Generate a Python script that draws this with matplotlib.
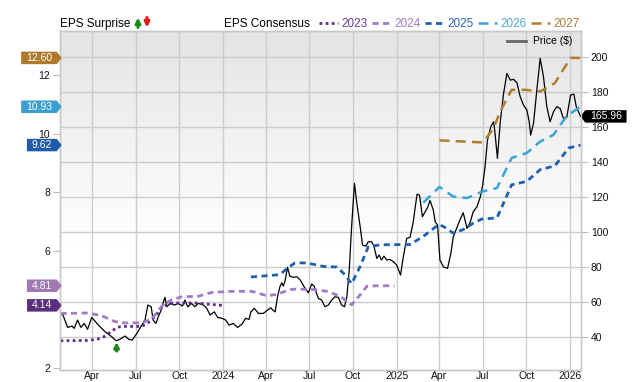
import numpy as np
import pandas as pd
import matplotlib
matplotlib.use("Agg")
import matplotlib.pyplot as plt
import matplotlib.dates as mdates
from matplotlib.path import Path
from matplotlib.lines import Line2D

plt.rcParams['font.family'] = ['Liberation Sans', 'DejaVu Sans']

# ---- data ----
price_dates = [
    "2023-01-23", "2023-01-28", "2023-02-08", "2023-02-17", "2023-02-22", "2023-03-01", "2023-03-08",
    "2023-03-15", "2023-03-22", "2023-03-31", "2023-04-14", "2023-04-28", "2023-05-12",
    "2023-05-21", "2023-05-29", "2023-06-09", "2023-06-17", "2023-06-24", "2023-07-04",
    "2023-07-13", "2023-07-21", "2023-07-27", "2023-08-03", "2023-08-07", "2023-08-13",
    "2023-08-18", "2023-08-24", "2023-08-29", "2023-09-01", "2023-09-05", "2023-09-12",
    "2023-09-21", "2023-09-29", "2023-10-08", "2023-10-13", "2023-10-19", "2023-10-27",
    "2023-11-03", "2023-11-10", "2023-11-21", "2023-11-28", "2023-12-05", "2023-12-14",
    "2023-12-21", "2023-12-30", "2024-01-07", "2024-01-14", "2024-01-23", "2024-02-01",
    "2024-02-10", "2024-02-18", "2024-02-25", "2024-02-29", "2024-03-07", "2024-03-16",
    "2024-03-26", "2024-04-04", "2024-04-11", "2024-04-15", "2024-04-20", "2024-04-25",
    "2024-04-30", "2024-05-04", "2024-05-07", "2024-05-11", "2024-05-16", "2024-05-21",
    "2024-05-28", "2024-06-05", "2024-06-12", "2024-06-20", "2024-06-29", "2024-07-06",
    "2024-07-11", "2024-07-15", "2024-07-20", "2024-07-27", "2024-08-03", "2024-08-10",
    "2024-08-17", "2024-08-24", "2024-08-31", "2024-09-07", "2024-09-13", "2024-09-18",
    "2024-09-23", "2024-09-28", "2024-10-04", "2024-10-09", "2024-10-16", "2024-10-21",
    "2024-10-28", "2024-11-02", "2024-11-09", "2024-11-14", "2024-11-20", "2024-11-25",
    "2024-11-30", "2024-12-05", "2024-12-11", "2024-12-18", "2024-12-25", "2025-01-01",
    "2025-01-09", "2025-01-15", "2025-01-22", "2025-01-29", "2025-02-05", "2025-02-09",
    "2025-02-13", "2025-02-18", "2025-02-24", "2025-03-07", "2025-03-12", "2025-03-19",
    "2025-03-23", "2025-03-28", "2025-04-02", "2025-04-09", "2025-04-18", "2025-04-25",
    "2025-04-30", "2025-05-07", "2025-05-14", "2025-05-21", "2025-05-29", "2025-06-05",
    "2025-06-11", "2025-06-19", "2025-06-26", "2025-07-01", "2025-07-06", "2025-07-11",
    "2025-07-18", "2025-07-24", "2025-07-27", "2025-08-01", "2025-08-07", "2025-08-14",
    "2025-08-21", "2025-08-28", "2025-09-04", "2025-09-11", "2025-09-18", "2025-09-25",
    "2025-10-02", "2025-10-07", "2025-10-10", "2025-10-16", "2025-10-23", "2025-10-30",
    "2025-11-06", "2025-11-13", "2025-11-20", "2025-11-27", "2025-12-04", "2025-12-11",
    "2025-12-18", "2025-12-25", "2026-01-02", "2026-01-09", "2026-01-14", "2026-01-23",
]
price = [
    52.0, 53.5, 45.5, 46.3, 45.0, 49.7, 45.5,
    47.8, 44.4, 51.2, 46.8, 43.0, 40.2,
    37.9, 38.7, 40.6, 38.7, 38.3, 42.1,
    46.3, 49.7, 58.3, 57.3, 49.7, 47.8,
    51.6, 55.4, 60.2, 62.7, 57.3, 59.2,
    58.3, 59.2, 57.7, 61.1, 57.3, 59.2,
    57.3, 59.2, 58.3, 56.4, 52.6, 54.4,
    51.2, 50.7, 49.7, 46.8, 47.8, 45.5,
    47.4, 50.7, 50.1, 54.4, 56.4, 53.5,
    53.5, 55.4, 56.7, 55.4, 54.4, 63.0,
    68.7, 71.0, 69.1, 72.1, 79.8, 74.8,
    74.1, 74.4, 72.5, 68.7, 65.3, 70.3,
    69.1, 65.9, 62.1, 61.1, 57.3, 58.3,
    61.1, 63.0, 62.7, 58.3, 57.3, 63.0,
    78.2, 103.0, 127.7, 116.3, 103.0, 92.5,
    91.9, 94.4, 94.4, 91.9, 84.9, 86.8,
    84.0, 86.2, 84.0, 84.3, 83.0, 81.1,
    75.4, 86.0, 96.3, 96.9, 106.0, 114.4,
    121.6, 121.0, 108.7, 114.0, 118.0, 112.5,
    105.8, 103.9, 84.0, 80.1, 79.2, 87.8,
    97.2, 102.0, 106.8, 111.0, 102.0, 105.8,
    111.5, 114.4, 120.1, 126.8, 137.2, 152.4,
    160.0, 162.9, 156.3, 142.0, 162.9, 179.1,
    190.5, 186.7, 187.1, 185.2, 177.2, 172.4,
    169.6, 162.9, 155.3, 162.0, 181.0, 199.1,
    188.6, 171.5, 162.9, 168.6, 171.5, 170.5,
    164.8, 165.4, 178.1, 178.7, 171.5, 165.96,
]

eps23_dates = ["2023-01-24", "2023-03-23", "2023-04-13", "2023-04-27", "2023-05-11", "2023-05-25",
               "2023-06-08", "2023-07-14", "2023-07-27", "2023-08-11", "2023-08-25", "2023-09-08",
               "2023-09-22", "2023-11-03", "2023-12-30"]
eps23 = [2.93, 2.94, 2.99, 3.08, 3.25, 3.40, 3.42, 3.42, 3.54, 3.76, 4.05, 4.20, 4.22, 4.22, 4.14]

eps24_dates = ["2023-01-24", "2023-03-23", "2023-04-20", "2023-05-18", "2023-06-01", "2023-07-14",
               "2023-08-04", "2023-08-25", "2023-09-15", "2023-10-06", "2023-11-10", "2023-12-08",
               "2024-01-20", "2024-03-02", "2024-04-02", "2024-04-23", "2024-05-21", "2024-06-05",
               "2024-07-09", "2024-08-07", "2024-09-04", "2024-09-28", "2024-10-16", "2024-10-30",
               "2024-11-20", "2024-12-27"]
eps24 = [3.86, 3.88, 3.79, 3.59, 3.54, 3.54, 3.67, 4.11, 4.33, 4.43, 4.45, 4.58,
         4.62, 4.62, 4.47, 4.51, 4.68, 4.70, 4.68, 4.62, 4.45, 4.16, 4.50, 4.79,
         4.81, 4.81]

eps25_dates = ["2024-02-29", "2024-04-30", "2024-05-18", "2024-06-01", "2024-06-26", "2024-07-31",
               "2024-08-28", "2024-09-14", "2024-09-28", "2024-10-16", "2024-11-02", "2024-11-27",
               "2025-01-29", "2025-02-26", "2025-03-30", "2025-04-09", "2025-04-30", "2025-05-21",
               "2025-06-11", "2025-06-29", "2025-07-31", "2025-08-14", "2025-08-31", "2025-10-02",
               "2025-10-30", "2025-11-30", "2025-12-29", "2026-01-23"]
eps25 = [5.11, 5.19, 5.44, 5.59, 5.59, 5.47, 5.45, 5.19, 4.88, 5.47, 6.14, 6.21,
         6.22, 6.50, 6.90, 6.84, 6.61, 6.73, 6.95, 7.09, 7.13, 7.64, 8.26, 8.38,
         8.78, 8.91, 9.52, 9.62]

eps26_dates = ["2025-02-26", "2025-04-01", "2025-04-30", "2025-05-29", "2025-07-02", "2025-07-31",
               "2025-08-31", "2025-10-02", "2025-10-30", "2025-11-27", "2025-12-25", "2026-01-23"]
eps26 = [7.65, 8.19, 7.86, 7.81, 8.04, 8.15, 9.18, 9.35, 9.74, 9.97, 10.62, 10.93]

eps27_dates = ["2025-04-01", "2025-07-02", "2025-07-24", "2025-08-07", "2025-08-31", "2025-09-28",
               "2025-10-30", "2025-11-30", "2026-01-02", "2026-01-23"]
eps27 = [9.78, 9.71, 10.20, 10.77, 11.51, 11.51, 11.45, 11.74, 12.60, 12.60]

surprise_date = "2023-05-22"
surprise_tip, surprise_tail = 37.2, 32.0

eps_series = [
    ("2023", eps23_dates, eps23, "#5b2d86", (0, (1, 1.2)), 2.0, "#6a3d96"),
    ("2024", eps24_dates, eps24, "#a07cc0", (0, (2.2, 1.6)), 2.0, "#a07cc0"),
    ("2025", eps25_dates, eps25, "#1f5fb0", (0, (2.2, 1.6)), 2.0, "#2d64ad"),
    ("2026", eps26_dates, eps26, "#3aa3d8", (0, (4, 2.5)), 1.8, "#4ea6d2"),
    ("2027", eps27_dates, eps27, "#b07d2f", (0, (4, 2.5)), 1.8, "#a87a3a"),
]
last_labels = [("12.60", 12.60, "#b07a2c"), ("10.93", 10.93, "#3a9fd0"), ("9.62", 9.62, "#1f5ba8"),
               ("4.81", 4.81, "#a078b4"), ("4.14", 4.14, "#5c2e7e")]


def tag_right(x0, y0, width, height, mutation_size):
    px, py = 0.45 * mutation_size, 0.12 * mutation_size
    x0, y0, width, height = x0 - px, y0 - py, width + 2 * px, height + 2 * py
    tip = 0.4 * height
    verts = [(x0, y0), (x0 + width, y0), (x0 + width + tip, y0 + height / 2),
             (x0 + width, y0 + height), (x0, y0 + height), (x0, y0)]
    return Path(verts, closed=True)


def tag_left(x0, y0, width, height, mutation_size):
    px, py = 0.45 * mutation_size, 0.12 * mutation_size
    x0, y0, width, height = x0 - px, y0 - py, width + 2 * px, height + 2 * py
    tip = 0.4 * height
    verts = [(x0, y0), (x0 + width, y0), (x0 + width, y0 + height), (x0, y0 + height),
             (x0 - tip, y0 + height / 2), (x0, y0)]
    return Path(verts, closed=True)


fig = plt.figure(figsize=(6.4, 3.82), dpi=100)
ax = fig.add_axes([60 / 640, 1 - 370 / 382, 521 / 640, 339 / 382])
axe = ax.twinx()

# background gradient
grad = np.linspace(0, 1, 256).reshape(-1, 1)
grad = np.clip(grad * 1.6, 0, 1)
ax.imshow(grad, extent=[0, 1, 0, 1], transform=ax.transAxes, aspect='auto',
          cmap=matplotlib.colors.LinearSegmentedColormap.from_list('bg', ['#e4e4e4', '#ffffff']),
          origin='upper', zorder=0)

pd_price = pd.to_datetime(price_dates)
ax.plot(pd_price, price, color='black', lw=0.9, zorder=3)
arrow_kw = dict(arrowstyle='-|>', lw=2.2, mutation_scale=7, shrinkA=0, shrinkB=0)
ax.annotate('', xy=(pd.Timestamp(surprise_date), surprise_tip),
            xytext=(pd.Timestamp(surprise_date), surprise_tail),
            arrowprops=dict(color='#1b8a1b', **arrow_kw))

for name, d, v, c, ls, lw, tc in eps_series:
    axe.plot(pd.to_datetime(d), v, color=c, linestyle=ls, lw=lw)

xmin, xmax = pd.Timestamp("2023-01-23"), pd.Timestamp("2026-01-24")
ax.set_xlim(xmin, xmax)
ax.set_ylim(21.2, 214.7)
axe.set_ylim(1.93, 13.52)

# axes styling
ax.yaxis.tick_right()
axe.yaxis.tick_left()
ax.set_yticks(range(40, 201, 20))
axe.set_yticks([2, 4, 6, 8, 10, 12])
axe.set_yticklabels(['2', '', '6', '8', '10', '12'])
ax.xaxis.set_major_locator(mdates.MonthLocator(bymonth=[1, 4, 7, 10]))


def fmt(x, pos):
    d = mdates.num2date(x)
    return str(d.year) if d.month == 1 else d.strftime('%b')


ax.xaxis.set_major_formatter(plt.FuncFormatter(fmt))
ax.grid(True, color='#cccccc', lw=1)
ax.tick_params(axis='x', length=0, pad=0.5, labelsize=7.5, colors='#111111')
ax.tick_params(axis='y', length=5, width=0.8, color='#bbbbbb', pad=2, labelsize=7.5, labelcolor='#111111')
axe.tick_params(axis='y', length=5, width=0.8, color='#bbbbbb', pad=2, labelsize=7.5, labelcolor='#111111')
for a in (ax, axe):
    for s in a.spines.values():
        s.set_color('#c8c8c8')
        s.set_linewidth(1)

# last value tags
for txt, v, c in last_labels:
    axe.annotate(txt, xy=(0, v), xycoords=('axes fraction', 'data'), xytext=(-8, 0),
                 textcoords='offset pixels', ha='right', va='center', fontsize=7.5, color='white',
                 bbox=dict(boxstyle=tag_right, fc=c, ec='none'), annotation_clip=False, zorder=10)
ax.annotate(f"{price[-1]:.2f}", xy=(1, price[-1]), xycoords=('axes fraction', 'data'), xytext=(9, 0),
            textcoords='offset pixels', ha='left', va='center', fontsize=7.5, color='white',
            bbox=dict(boxstyle=tag_left, fc='black', ec='none'), annotation_clip=False, zorder=10)

# header
fig.text(60.5 / 640, 1 - 26.7 / 382, "EPS Surprise", fontsize=8.5, va='baseline')
ax.annotate('', xy=(138, 382 - 17.5), xycoords='figure pixels', xytext=(138, 382 - 27.5),
            textcoords='figure pixels', arrowprops=dict(color='#1b8a1b', **arrow_kw))
ax.annotate('', xy=(147, 382 - 27.5), xycoords='figure pixels', xytext=(147, 382 - 17.5),
            textcoords='figure pixels', arrowprops=dict(color='#e8191b', **arrow_kw))
fig.text(224 / 640, 1 - 26.7 / 382, "EPS Consensus", fontsize=8.5, va='baseline')
leg_x = [319, 372, 425, 478, 531]
for (name, d, v, c, ls, lw, tc), lx in zip(eps_series, leg_x):
    fig.add_artist(Line2D([lx / 640, (lx + 19) / 640], [1 - 22.5 / 382] * 2, color=c,
                          linestyle=ls, lw=lw, transform=fig.transFigure))
    fig.text((lx + 22) / 640, 1 - 26.7 / 382, name, fontsize=8.5, color=tc, va='baseline')

fig.add_artist(Line2D([507 / 640, 526 / 640], [1 - 41 / 382] * 2, color='#666666', lw=2,
                      transform=fig.transFigure))
fig.text(533 / 640, 1 - 41.5 / 382, "Price ($)", fontsize=7.5, va='center')

fig.savefig("out.png", dpi=100)
